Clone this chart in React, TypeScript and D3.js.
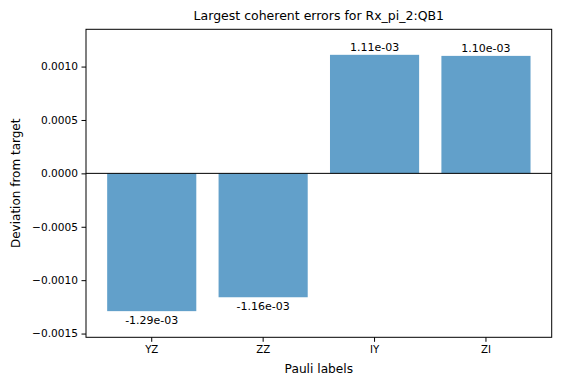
import React, { useEffect, useRef } from 'react'
import * as d3 from 'd3'

const labels = ['YZ', 'ZZ', 'IY', 'ZI']
const values = [-1.29e-3, -1.16e-3, 1.11e-3, 1.10e-3]
const yTicks = [-0.0015, -0.001, -0.0005, 0, 0.0005, 0.001]
const yDomain = [-0.001535, 0.001349]
const title = 'Largest coherent errors for Rx_pi_2:QB1'
const xTitle = 'Pauli labels'
const yTitle = 'Deviation from target'

const W = 561
const H = 385
const margin = { left: 86, right: 9.3, top: 29.3, bottom: 47.7 }
const font = 'DejaVu Sans, sans-serif'

export default function App() {
  const svgRef = useRef<SVGSVGElement>(null)

  useEffect(() => {
    const svg = d3.select(svgRef.current)
    svg.selectAll('*').remove()

    const x = d3.scaleBand<string>()
      .domain(labels)
      .range([margin.left, W - margin.right])
      .paddingInner(0.2)
      .paddingOuter(0.19)
    const y = d3.scaleLinear()
      .domain(yDomain)
      .range([H - margin.bottom, margin.top])

    svg.append('g')
      .selectAll('rect')
      .data(values)
      .join('rect')
      .attr('x', (d, i) => x(labels[i]))
      .attr('width', x.bandwidth())
      .attr('y', d => y(Math.max(0, d)))
      .attr('height', d => Math.abs(y(d) - y(0)))
      .attr('fill', '#1f77b4')
      .attr('fill-opacity', 0.7)

    // zero line
    svg.append('line')
      .attr('x1', margin.left).attr('x2', W - margin.right)
      .attr('y1', y(0)).attr('y2', y(0))
      .attr('stroke', 'black').attr('stroke-width', 1)

    // bar value labels
    svg.append('g')
      .selectAll('text')
      .data(values)
      .join('text')
      .attr('x', (d, i) => x(labels[i]) + x.bandwidth() / 2)
      .attr('y', d => d >= 0 ? y(d) - 3.5 : y(d) + 13)
      .attr('text-anchor', 'middle')
      .attr('font-family', font)
      .attr('font-size', 11)
      .text(d => d.toExponential(2).replace(/e([+-])(\d)$/, 'e$10$2'))

    const yAxis = d3.axisLeft(y)
      .tickValues(yTicks)
      .tickSize(4.5)
      .tickPadding(3.5)
      .tickFormat(d => d3.format('.4f')(+d).replace('-', '\u2212'))
    const gy = svg.append('g')
      .attr('transform', `translate(${margin.left},0)`)
      .call(yAxis)
    gy.select('.domain').remove()
    gy.selectAll('text').attr('font-family', font).attr('font-size', 10.6).attr('fill', '#000')

    const xAxis = d3.axisBottom(x).tickSize(4.5).tickPadding(4)
    const gx = svg.append('g')
      .attr('transform', `translate(0,${H - margin.bottom})`)
      .call(xAxis)
    gx.select('.domain').remove()
    gx.selectAll('text').attr('font-family', font).attr('font-size', 10.2).attr('fill', '#000')

    // frame
    svg.append('rect')
      .attr('x', margin.left).attr('y', margin.top)
      .attr('width', W - margin.left - margin.right)
      .attr('height', H - margin.top - margin.bottom)
      .attr('fill', 'none').attr('stroke', 'black').attr('stroke-width', 1)

    svg.append('text')
      .attr('x', (margin.left + W - margin.right) / 2)
      .attr('y', 20)
      .attr('text-anchor', 'middle')
      .attr('font-family', font)
      .attr('font-size', 12.5)
      .text(title)

    svg.append('text')
      .attr('x', (margin.left + W - margin.right) / 2)
      .attr('y', 372.5)
      .attr('text-anchor', 'middle')
      .attr('font-family', font)
      .attr('font-size', 12.2)
      .text(xTitle)

    svg.append('text')
      .attr('transform', `translate(19.5,${(margin.top + H - margin.bottom) / 2}) rotate(-90)`)
      .attr('text-anchor', 'middle')
      .attr('font-family', font)
      .attr('font-size', 12)
      .text(yTitle)
  }, [])

  return (
    <div style={{ margin: -8 }}>
      <svg ref={svgRef} width={W} height={H} style={{ display: 'block', background: '#fff' }} />
    </div>
  )
}
